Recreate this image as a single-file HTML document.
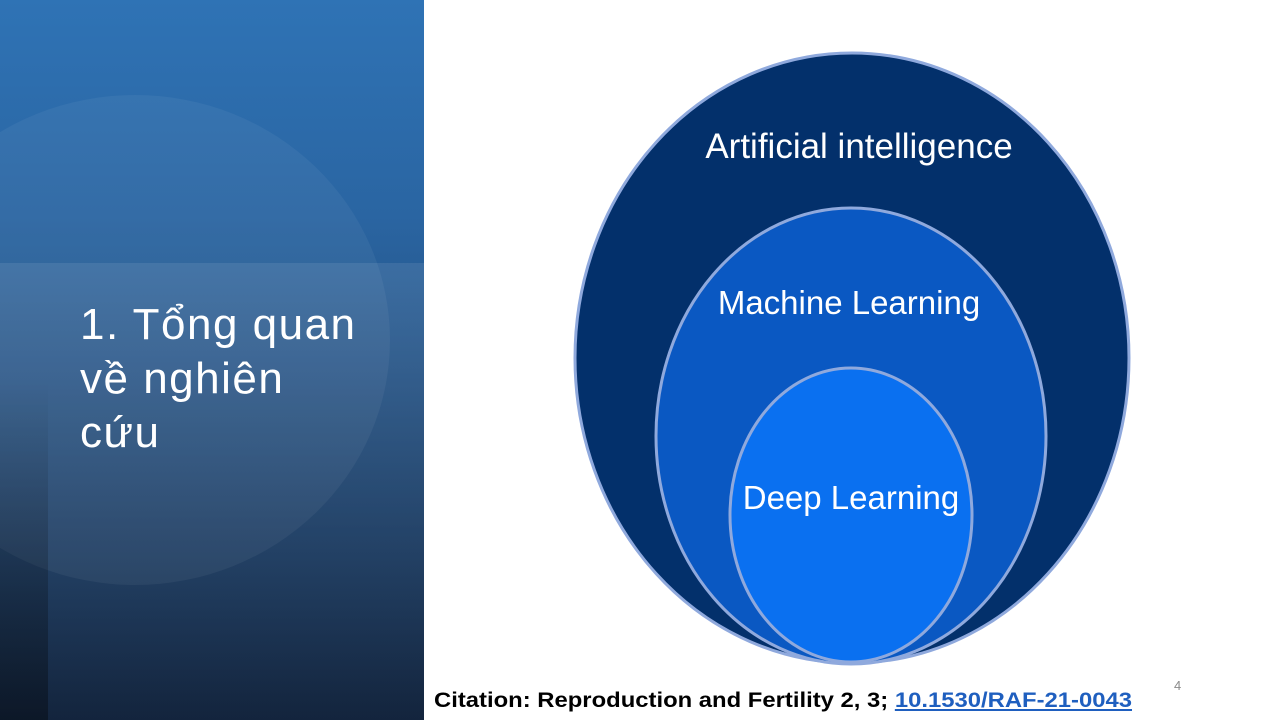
<!DOCTYPE html>
<html><head><meta charset="utf-8"><style>
body{margin:0;width:1280px;height:720px;overflow:hidden;background:#fff;position:relative;font-family:"Liberation Sans",sans-serif}
#left{position:absolute;left:0;top:0;width:424px;height:720px;overflow:hidden;background:linear-gradient(180deg,#2f73b5 0%,#2a65a2 30%,#255487 50%,#1d3d63 75%,#142640 100%)}
.band{position:absolute;left:0;top:263px;width:424px;height:457px;background:linear-gradient(180deg,rgba(255,255,255,0.09),rgba(255,255,255,0.03) 60%,rgba(0,0,0,0.05))}
.circ{position:absolute;left:-120px;top:95px;width:510px;height:490px;border-radius:50%;background:rgba(255,255,255,0.05)}
.strip{position:absolute;left:0;top:380px;width:48px;height:340px;background:linear-gradient(180deg,rgba(0,0,0,0),rgba(0,0,0,0.35))}
.title{position:absolute;left:80px;top:298px;color:#fff;font-size:44px;line-height:54px;font-family:"Liberation Sans","DejaVu Sans",sans-serif;letter-spacing:1.5px}
.cit{position:absolute;left:434px;top:689px;font-size:21px;font-weight:bold;color:#000;white-space:nowrap;transform:scaleX(1.135);transform-origin:0 0}
.cit span{color:#1f5fbf;text-decoration:underline}
.pn{position:absolute;left:1174px;top:678px;font-size:13px;color:#8a8a8a}
</style></head><body>
<div id="left"><div class="circ"></div><div class="band"></div><div class="strip"></div>
<div class="title">1. Tổng quan<br>về nghiên<br>cứu</div></div>
<svg style="position:absolute;left:0;top:0" width="1280" height="720">
<ellipse cx="852" cy="358" rx="277" ry="305" fill="#03306b" stroke="#8fa9dd" stroke-width="3"/>
<ellipse cx="851" cy="436" rx="195" ry="228" fill="#0a58c2" stroke="#8fa9dd" stroke-width="3"/>
<ellipse cx="851" cy="515" rx="121" ry="147" fill="#0a70f0" stroke="#8fa9dd" stroke-width="3"/>
<g fill="#fff" font-family="Liberation Sans, sans-serif" text-anchor="middle">
<text x="859" y="158" font-size="35">Artificial intelligence</text>
<text x="849" y="314" font-size="33">Machine Learning</text>
<text x="851" y="509" font-size="33">Deep Learning</text>
</g></svg>
<div class="pn">4</div>
<div class="cit">Citation: Reproduction and Fertility 2, 3; <span>10.1530/RAF-21-0043</span></div>
</body></html>
